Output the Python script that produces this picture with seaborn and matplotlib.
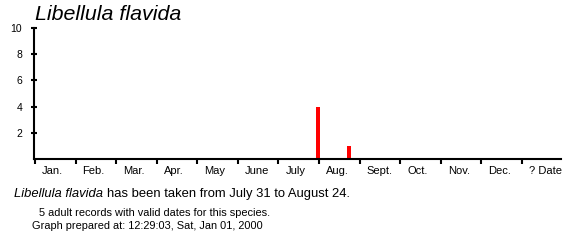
import numpy as np
import pandas as pd
import matplotlib
matplotlib.use("Agg")
import matplotlib.pyplot as plt
import seaborn as sns

months = ["Jan.", "Feb.", "Mar.", "Apr.", "May", "June", "July", "Aug.",
          "Sept.", "Oct.", "Nov.", "Dec.", "? Date"]
record_month = [7, 8]
record_day = [31, 24]
record_count = [4, 1]
y_ticks = [2, 4, 6, 8, 10]
species = "Libellula flavida"

sns.set_style("white")
plt.rcParams["font.family"] = ["Liberation Sans", "DejaVu Sans"]
plt.rcParams["text.color"] = "black"
plt.rcParams["xtick.color"] = "black"
plt.rcParams["ytick.color"] = "black"
plt.rcParams["axes.labelcolor"] = "black"

pos = [m - 1 + (d - 1) / 31 for m, d in zip(record_month, record_day)]
df = pd.DataFrame({"pos": pos, "count": record_count})

W, H = 581, 245
fig = plt.figure(figsize=(W / 100, H / 100), dpi=100)
x0, x1, yb, yt = 34, 561, 159, 28
ax = fig.add_axes([x0 / W, (H - yb) / H, (x1 - x0) / W, (yb - yt) / H])

step = 40.58
native = np.min(np.diff(np.unique(pos))) if len(set(pos)) > 1 else 1
sns.barplot(data=df, x="pos", y="count", native_scale=True,
            width=0.1 / native, color="#ff0000", saturation=1,
            edgecolor="none", linewidth=0, ax=ax)

ax.set_xlim(-1 / step, (x1 - x0 - 1) / step)
ax.set_ylim(0, 10)
ax.set_xlabel("")
ax.set_ylabel("")

for s in ["top", "right"]:
    ax.spines[s].set_visible(False)
for s in ["left", "bottom"]:
    ax.spines[s].set_linewidth(1.5)
    ax.spines[s].set_color("black")

ax.set_yticks(y_ticks)
ax.set_yticklabels([str(v) for v in y_ticks])
ax.tick_params(axis="y", direction="inout", length=5, width=1.5,
               labelsize=7.5, pad=6, left=True, colors="black")

ax.set_xticks(np.arange(0, 13))
ax.set_xticklabels([])
ax.tick_params(axis="x", which="major", direction="out", length=3.5, width=1.5,
               bottom=True, colors="black")
ax.set_xticks(np.arange(0, 13) + 0.17, minor=True)
ax.set_xticklabels(months, minor=True, fontsize=8, ha="left", color="black")
ax.tick_params(axis="x", which="minor", length=0, pad=5)

fig.text(35 / W, 1 - 14 / H, species, fontsize=15.4, style="italic",
         va="center", ha="left", color="black")

fig.text(14 / W, 1 - 194 / H, species, fontsize=9.4, style="italic",
         va="center", ha="left", color="black")
fig.canvas.draw()
r = fig.canvas.get_renderer()
tmp = fig.text(14 / W, 1 - 194 / H, species + " ", fontsize=9.4, style="italic",
               va="center", ha="left")
bb = tmp.get_window_extent(renderer=r)
tmp.remove()
fig.text(bb.x1 / W, 1 - 194 / H, "has been taken from July 31 to August 24.",
         fontsize=9.4, va="center", ha="left", color="black")
fig.text(39 / W, 1 - 213 / H, "5 adult records with valid dates for this species.",
         fontsize=7.9, va="center", ha="left", color="black")
fig.text(32 / W, 1 - 226 / H, "Graph prepared at: 12:29:03, Sat, Jan 01, 2000",
         fontsize=7.9, va="center", ha="left", color="black")

fig.savefig("out.png", dpi=100, facecolor="white")
